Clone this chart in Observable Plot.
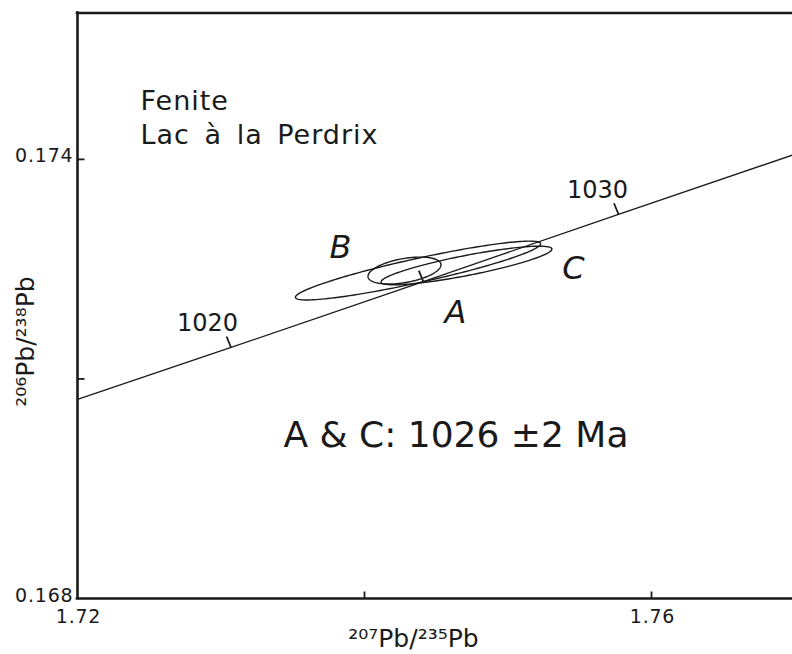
<!DOCTYPE html>
<html><head><meta charset="utf-8">
<script src="https://cdn.jsdelivr.net/npm/d3@7"></script>
<script src="https://cdn.jsdelivr.net/npm/@observablehq/plot@0.6"></script>
<style>
html,body{margin:0;padding:0;background:#fff;overflow:hidden}
</style></head><body><div id="chart"></div>
<script>
// Axes
const xDomain = [1.72, 1.77];
const yDomain = [0.168, 0.176];
const xTicks = [1.74, 1.76];
const xTickLabels = [1.72, 1.76];
const yTicks = [0.171, 0.174];
const yTickLabels = [0.168, 0.174];

// Concordia curve
const concordiaX = [1.72, 1.7307, 1.7441, 1.7577, 1.77];
const concordiaY = [0.17072, 0.17143, 0.17233, 0.17325, 0.17407];

// Age ticks on concordia
const ageTickX = [1.7307, 1.7441, 1.7577];
const ageTickY = [0.17143, 0.17233, 0.17325];
const ageLabelText = ["1020", "1030"];
const ageLabelX = [1.72906, 1.75624];
const ageLabelY = [0.17176, 0.17358];

// Error ellipses (centre, half extents, correlation)
const ellipseNames = ["B", "A", "C"];
const ellipseCx = [1.743728, 1.742787, 1.747108];
const ellipseCy = [0.172481, 0.172481, 0.172550];
const ellipseSx = [0.008543, 0.002544, 0.005951];
const ellipseSy = [0.000402, 0.000184, 0.000264];
const ellipseRho = [0.908, 0.427, 0.849];

// Ellipse letter labels
const letterText = ["B", "C", "A"];
const letterX = [1.73833, 1.75456, 1.74634];
const letterY = [0.17279, 0.17251, 0.17191];

const concordia = concordiaX.map((x, i) => ({x, y: concordiaY[i]}));
const ageTicks = ageTickX.map((x, i) => ({x, y: ageTickY[i]}));
const ageLabels = ageLabelText.map((t, i) => ({t, x: ageLabelX[i], y: ageLabelY[i]}));
const letters = letterText.map((t, i) => ({t, x: letterX[i], y: letterY[i]}));

const ellipsePts = [];
ellipseNames.forEach((name, i) => {
  const n = 160, r = ellipseRho[i], q = Math.sqrt(1 - r * r);
  for (let k = 0; k <= n; k++) {
    const t = 2 * Math.PI * k / n;
    ellipsePts.push({
      name,
      x: ellipseCx[i] + ellipseSx[i] * Math.cos(t),
      y: ellipseCy[i] + ellipseSy[i] * (r * Math.cos(t) + q * Math.sin(t))
    });
  }
});

const tickUp = {draw(c) { c.moveTo(0, 0); c.lineTo(0, -7); }};
const tickRight = {draw(c) { c.moveTo(0, 0); c.lineTo(7, 0); }};
const ageTickSym = {draw(c) { c.moveTo(0, 0); c.lineTo(-4.5, -11); }};

const ink = "#1a1a1a";
const x0 = xDomain[0], y0 = yDomain[0];

const chart = Plot.plot({
  width: 792,
  height: 654,
  marginLeft: 77,
  marginTop: 12.5,
  marginBottom: 56,
  marginRight: -2.5,
  style: {fontFamily: "DejaVu Sans, sans-serif", background: "#fff"},
  x: {domain: xDomain, axis: null},
  y: {domain: yDomain, axis: null},
  marks: [
    // frame (left, top, bottom)
    Plot.ruleX([x0], {stroke: ink, strokeWidth: 2.6, strokeLinecap: "square"}),
    Plot.ruleY(yDomain, {stroke: ink, strokeWidth: 2.6, strokeLinecap: "square"}),
    // axis ticks (inward)
    Plot.dot(xTicks, {x: d => d, y: () => y0, symbol: tickUp, r: 3, fill: "none", stroke: ink, strokeWidth: 1.8}),
    Plot.dot(yTicks, {x: () => x0, y: d => d, symbol: tickRight, r: 3, fill: "none", stroke: ink, strokeWidth: 1.8}),
    // tick labels
    Plot.text(xTickLabels, {x: d => d, y: () => y0, dy: 18, dx: 1, text: d => d.toFixed(2), fontSize: 19, fill: ink}),
    Plot.text(yTickLabels, {x: () => x0, y: d => d, dx: -4, dy: -3, textAnchor: "end", text: d => d.toFixed(3), fontSize: 19, fill: ink}),
    // concordia
    Plot.line(concordia, {x: "x", y: "y", curve: "natural", stroke: ink, strokeWidth: 1.3}),
    Plot.dot(ageTicks, {x: "x", y: "y", symbol: ageTickSym, r: 3, fill: "none", stroke: ink, strokeWidth: 1.8}),
    Plot.text(ageLabels, {x: "x", y: "y", text: "t", fontSize: 24, fill: ink}),
    // ellipses
    Plot.line(ellipsePts, {x: "x", y: "y", z: "name", stroke: ink, strokeWidth: 1.4, fill: "none"}),
    Plot.text(letters, {x: "x", y: "y", text: "t", fontSize: 32, fontStyle: "italic", fill: ink}),
    // annotations
    Plot.text(["Fenite\nLac à la Perdrix"], {x: () => 1.72439, y: () => 0.17459, textAnchor: "start", fontSize: 27, lineHeight: 1.26, fill: ink}),
    Plot.text(["A & C: 1026 \u00b12 Ma"], {x: () => 1.734355, y: () => 0.170229, textAnchor: "start", fontSize: 36, fill: ink}),
    // axis labels
    Plot.text(["\u00b2\u2070\u2077Pb/\u00b2\u00b3\u2075Pb"], {x: () => 1.74341, y: () => y0, dy: 40, fontSize: 25, fill: ink}),
    Plot.text(["\u00b2\u2070\u2076Pb/\u00b2\u00b3\u2078Pb"], {x: () => x0, y: () => 0.17151, dx: -52, rotate: -90, fontSize: 25, fill: ink})
  ]
});
// letter spacing to approximate the wide geometric face of the original
d3.select(chart).selectAll("text").each(function () {
  const s = this.textContent;
  const el = d3.select(this);
  if (/^\d\.\d+$/.test(s)) el.style("letter-spacing", "0.8px");
  else if (s.includes("Fenite")) el.style("letter-spacing", "1px").style("word-spacing", "5px");
});
document.getElementById("chart").appendChild(chart);
</script>
</body></html>
